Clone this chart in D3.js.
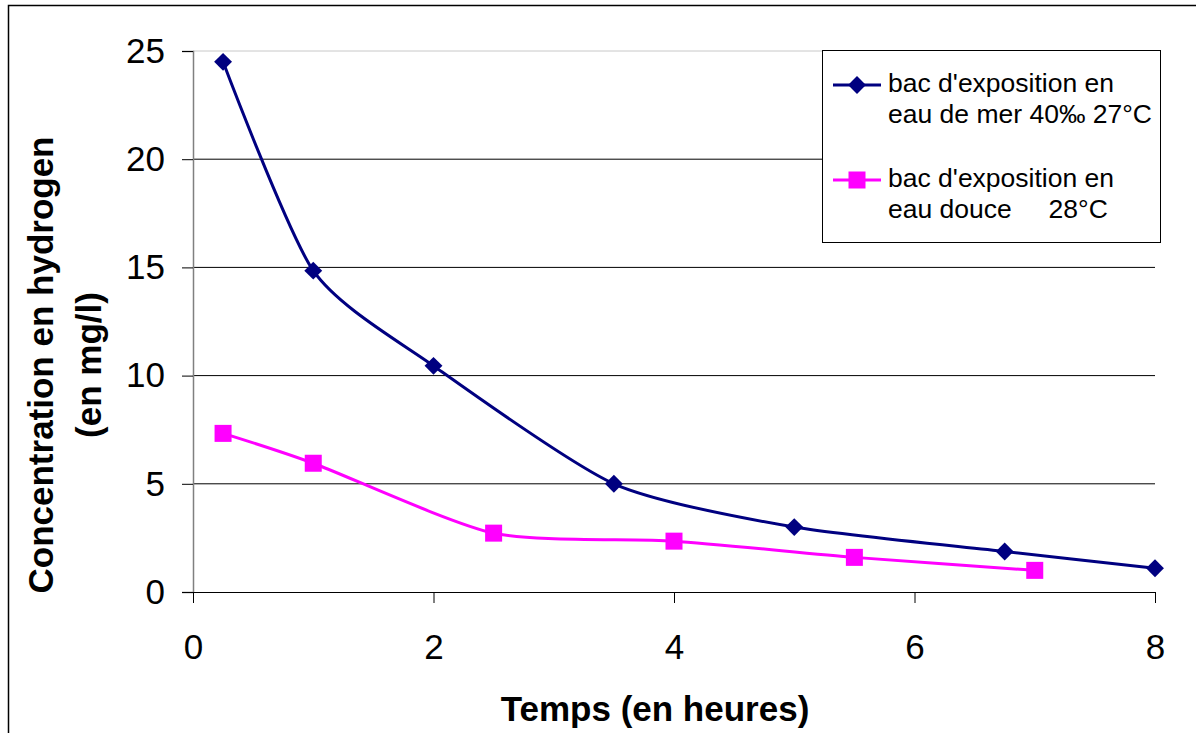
<!DOCTYPE html>
<html>
<head>
<meta charset="utf-8">
<script src="https://cdn.jsdelivr.net/npm/d3@7"></script>
<style>
  body { margin: 0; background: #fff; }
  svg { font-family: "Liberation Sans", Arial, sans-serif; display: block; }
</style>
</head>
<body>
<div id="chart"></div>
<script>
// Data
const seaTimes = [0.25, 1, 2, 3.5, 5, 6.75, 8];
const seaValues = [24.5, 14.85, 10.45, 5.0, 3.0, 1.87, 1.1];
const freshTimes = [0.25, 1, 2.5, 4, 5.5, 7];
const freshValues = [7.33, 5.95, 2.72, 2.35, 1.6, 1.0];
const xTicks = [0, 2, 4, 6, 8];
const yTicks = [0, 5, 10, 15, 20, 25];
const seriesNames = [
  ["bac d'exposition en", "eau de mer 40\u2030 27\u00b0C"],
  ["bac d'exposition en", "eau douce \u00a0\u00a0\u00a0\u00a028\u00b0C"]
];
const seriesColors = ['#000080', '#ff00ff'];

const W = 1196, H = 733;
const margin = { top: 51, right: 41, bottom: 141, left: 193 };
const width = W - margin.left - margin.right;
const height = H - margin.top - margin.bottom;

const svg = d3.select('#chart').append('svg')
  .attr('width', W)
  .attr('height', H);

// outer chart border
svg.append('rect')
  .attr('x', 8.5).attr('y', 5.5)
  .attr('width', W + 10).attr('height', H + 10)
  .style('fill', 'none').style('stroke', '#000').style('stroke-width', 1.5);

const g = svg.append('g')
  .attr('transform', `translate(${margin.left},${margin.top})`);

const x = d3.scaleLinear().domain([0, 8]).range([0, width]);
const y = d3.scaleLinear().domain([0, 25]).range([height, 0]);

// grid lines
g.selectAll('.grid')
  .data(yTicks.filter(d => d > 0))
  .enter().append('line')
  .attr('x1', 0).attr('x2', width)
  .attr('y1', d => y(d)).attr('y2', d => y(d))
  .style('stroke', d => d === 25 ? '#c8c8c8' : '#000')
  .style('stroke-width', 1);

// y axis
const yAxis = g.append('g')
  .call(d3.axisLeft(y).tickValues(yTicks).tickSize(11).tickPadding(17));
yAxis.select('.domain').style('stroke', '#808080').style('stroke-width', 1.5);
yAxis.selectAll('.tick line').style('stroke', '#000');
yAxis.selectAll('text').style('font-size', '35px').style('fill', '#000');

// x axis
const xAxis = g.append('g')
  .attr('transform', `translate(0,${height})`)
  .call(d3.axisBottom(x).tickValues(xTicks).tickSize(11).tickSizeOuter(11).tickPadding(31));
xAxis.select('.domain').style('stroke', '#000').style('stroke-width', 1);
xAxis.selectAll('.tick line').style('stroke', '#000');
xAxis.selectAll('text').style('font-size', '35px').style('fill', '#000');

// axis titles
svg.append('text')
  .attr('x', 655).attr('y', 721)
  .attr('text-anchor', 'middle')
  .style('font-size', '35px').style('font-weight', 'bold')
  .text('Temps (en heures)');

const yTitle = svg.append('text')
  .attr('transform', 'translate(53,365) rotate(-90)')
  .attr('text-anchor', 'middle')
  .style('font-size', '35px').style('font-weight', 'bold');
yTitle.append('tspan').attr('x', 0).attr('dy', 0).text('Concentration en hydrogen');
yTitle.append('tspan').attr('x', 0).attr('dy', 48).text('(en mg/l)');

// series
const line = d3.line()
  .x(d => x(d[0]))
  .y(d => y(d[1]))
  .curve(d3.curveCardinal.tension(0.3));

const seaData = seaTimes.map((t, i) => [t, seaValues[i]]);
const freshData = freshTimes.map((t, i) => [t, freshValues[i]]);

g.append('path').datum(freshData).attr('d', line)
  .style('fill', 'none').style('stroke', seriesColors[1]).style('stroke-width', 3);
g.append('path').datum(seaData).attr('d', line)
  .style('fill', 'none').style('stroke', seriesColors[0]).style('stroke-width', 3);

const diamond = d3.symbol().type(d3.symbolSquare).size(160);

g.selectAll('.sea-pt').data(seaData).enter().append('path')
  .attr('d', diamond)
  .attr('transform', d => `translate(${x(d[0])},${y(d[1])}) rotate(45)`)
  .style('fill', seriesColors[0]);

g.selectAll('.fresh-pt').data(freshData).enter().append('rect')
  .attr('x', d => x(d[0]) - 8.5).attr('y', d => y(d[1]) - 8.5)
  .attr('width', 17).attr('height', 17)
  .style('fill', seriesColors[1]);

// legend
const lg = svg.append('g');
lg.append('rect')
  .attr('x', 822.5).attr('y', 50.5).attr('width', 338).attr('height', 192)
  .style('fill', '#fff').style('stroke', '#000').style('stroke-width', 1);

const legendRows = [{ sy: 85, ty: 92 }, { sy: 180, ty: 187 }];
legendRows.forEach((r, i) => {
  lg.append('line')
    .attr('x1', 833).attr('x2', 881).attr('y1', r.sy).attr('y2', r.sy)
    .style('stroke', seriesColors[i]).style('stroke-width', 3);
  if (i === 0) {
    lg.append('path').attr('d', diamond)
      .attr('transform', `translate(857,${r.sy}) rotate(45)`)
      .style('fill', seriesColors[i]);
  } else {
    lg.append('rect').attr('x', 848.5).attr('y', r.sy - 8.5).attr('width', 17).attr('height', 17)
      .style('fill', seriesColors[i]);
  }
  const t = lg.append('text')
    .attr('x', 888).attr('y', r.ty)
    .style('font-size', '26.5px');
  t.append('tspan').attr('x', 888).attr('dy', 0).text(seriesNames[i][0]);
  t.append('tspan').attr('x', 888).attr('dy', 31).text(seriesNames[i][1]);
});
</script>
</body>
</html>
